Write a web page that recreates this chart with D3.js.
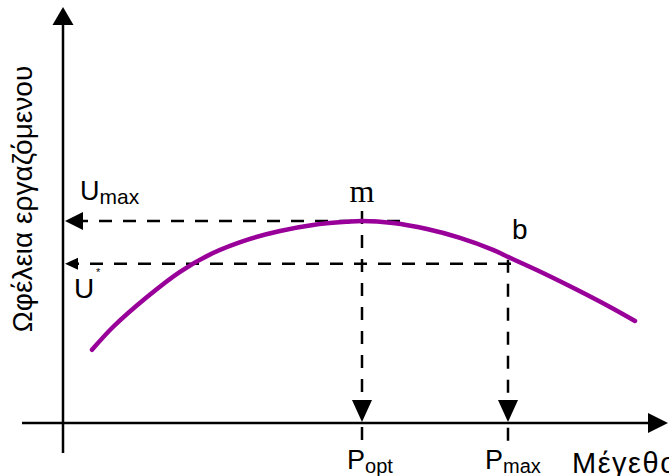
<!DOCTYPE html>
<html lang="el">
<head>
    <meta charset="utf-8">
    <title>Ωφέλεια εργαζόμενου - Μέγεθος</title>
    <script type="text/javascript" src="https://d3js.org/d3.v7.min.js"></script>
    <style type="text/css">
        body { margin: 0; background: #fff; }
        svg { display: block; }
        .lbl { font-family: "Liberation Sans", Arial, sans-serif; fill: #000; }
        .serif { font-family: "Liberation Serif", "Times New Roman", serif; fill: #000; }
    </style>
</head>
<body>
    <div id="chart"></div>

    <script type="text/javascript">

        //Width and height
        var w = 669;
        var h = 476;

        //Curve: size (x) and worker utility (y)
        var curveSize =    [0.58, 1.00, 1.68, 2.34, 3.00, 3.68, 4.34, 5.00, 5.68, 5.98, 6.60, 7.28, 7.94, 8.60, 8.94, 9.60, 10.28, 10.94, 11.44];
        var curveUtility = [1.83, 2.40, 3.15, 3.78, 4.25, 4.58, 4.80, 4.95, 5.03, 5.05, 5.00, 4.85, 4.63, 4.33, 4.13, 3.75, 3.33, 2.90, 2.55];

        //Reference points
        var pOpt = 5.98;
        var pMax = 8.9;
        var uMax = 5.05;
        var uStar = 3.98;

        //Scales (origin of the axes at 0,0)
        var x = d3.scaleLinear().domain([0, 12]).range([63, 663]);
        var y = d3.scaleLinear().domain([0, 10]).range([423, 23]);

        var svg = d3.select("#chart")
            .append("svg")
            .attr("width", w)
            .attr("height", h);

        //Small helper to draw a filled triangle arrowhead
        function arrow(tipX, tipY, dir, len, half) {
            var p;
            if (dir == "up") p = [[tipX, tipY], [tipX - half, tipY + len], [tipX + half, tipY + len]];
            if (dir == "down") p = [[tipX, tipY], [tipX - half, tipY - len], [tipX + half, tipY - len]];
            if (dir == "left") p = [[tipX, tipY], [tipX + len, tipY - half], [tipX + len, tipY + half]];
            if (dir == "right") p = [[tipX, tipY], [tipX - len, tipY - half], [tipX - len, tipY + half]];
            svg.append("path")
                .attr("d", "M" + p.join("L") + "Z")
                .attr("fill", "#000");
        }

        //Axes
        svg.append("line")
            .attr("x1", x(0)).attr("x2", x(0))
            .attr("y1", y(-0.75)).attr("y2", y(10))
            .attr("stroke", "#000").attr("stroke-width", 2.5);
        arrow(x(0), y(10.4), "up", 18, 10.5);

        svg.append("line")
            .attr("x1", x(-0.82)).attr("x2", x(11.8))
            .attr("y1", y(0)).attr("y2", y(0))
            .attr("stroke", "#000").attr("stroke-width", 2.5);
        arrow(x(12.1), y(0), "right", 20, 10);

        //Dashed guide lines
        var guides = [
            { x1: 6.74, y1: uMax, x2: 0.3, y2: uMax },
            { x1: pMax + 0.06, y1: uStar, x2: 0.25, y2: uStar },
            { x1: pOpt, y1: 5.3, x2: pOpt, y2: -0.55 },
            { x1: pMax, y1: 4.08, x2: pMax, y2: -0.55 }
        ];

        svg.selectAll("line.guide")
            .data(guides)
            .enter()
            .append("line")
            .attr("class", "guide")
            .attr("x1", function (d) { return x(d.x1); })
            .attr("y1", function (d) { return y(d.y1); })
            .attr("x2", function (d) { return x(d.x2); })
            .attr("y2", function (d) { return y(d.y2); })
            .attr("stroke", "#000")
            .attr("stroke-width", 2.5)
            .attr("stroke-dasharray", "13,11");

        arrow(x(0) + 2, y(uMax), "left", 18, 9);
        arrow(x(0) + 2, y(uStar), "left", 13, 6);
        arrow(x(pOpt), y(0) - 1, "down", 22, 10);
        arrow(x(pMax), y(0) - 1, "down", 22, 10);

        //Utility curve
        var line = d3.line()
            .x(function (d) { return x(d[0]); })
            .y(function (d) { return y(d[1]); })
            .curve(d3.curveCatmullRom);

        svg.append("path")
            .datum(d3.zip(curveSize, curveUtility))
            .attr("d", line)
            .attr("fill", "none")
            .attr("stroke", "#990099")
            .attr("stroke-width", 4.5)
            .attr("stroke-linecap", "round");

        //Labels
        var umaxLbl = svg.append("text").attr("class", "lbl")
            .attr("x", x(0) + 17).attr("y", y(uMax) - 21);
        umaxLbl.append("tspan").attr("font-size", 27).text("U");
        umaxLbl.append("tspan").attr("font-size", 21).attr("dy", 4).text("max");

        svg.append("text").attr("class", "lbl")
            .attr("x", x(0) + 11).attr("y", y(uStar) + 34)
            .attr("font-size", 28).text("U");
        svg.append("text").attr("class", "lbl")
            .attr("x", x(0) + 33).attr("y", y(uStar) + 12)
            .attr("font-size", 11).text("*");

        svg.append("text").attr("class", "serif")
            .attr("x", x(pOpt)).attr("y", y(uMax) - 19)
            .attr("text-anchor", "middle")
            .attr("font-size", 32).text("m");

        svg.append("text").attr("class", "lbl")
            .attr("x", x(pMax) + 4).attr("y", y(uStar) - 25)
            .attr("font-size", 28).text("b");

        var poptLbl = svg.append("text").attr("class", "lbl")
            .attr("x", x(pOpt) - 15).attr("y", 469);
        poptLbl.append("tspan").attr("font-size", 27).text("P");
        poptLbl.append("tspan").attr("font-size", 20).attr("dy", 4).text("opt");

        var pmaxLbl = svg.append("text").attr("class", "lbl")
            .attr("x", x(pMax) - 23).attr("y", 469);
        pmaxLbl.append("tspan").attr("font-size", 27).text("P");
        pmaxLbl.append("tspan").attr("font-size", 20).attr("dy", 4).text("max");

        //Cut off at the right edge, as in the original
        svg.append("text").attr("class", "lbl")
            .attr("x", 572).attr("y", 473)
            .attr("font-size", 29)
            .attr("letter-spacing", 1.5)
            .text("Μέγεθος");

        svg.append("text").attr("class", "lbl")
            .attr("transform", "translate(32,199) rotate(-90)")
            .attr("text-anchor", "middle")
            .attr("font-size", 28)
            .text("Ωφέλεια εργαζόμενου");

    </script>
</body>
</html>
